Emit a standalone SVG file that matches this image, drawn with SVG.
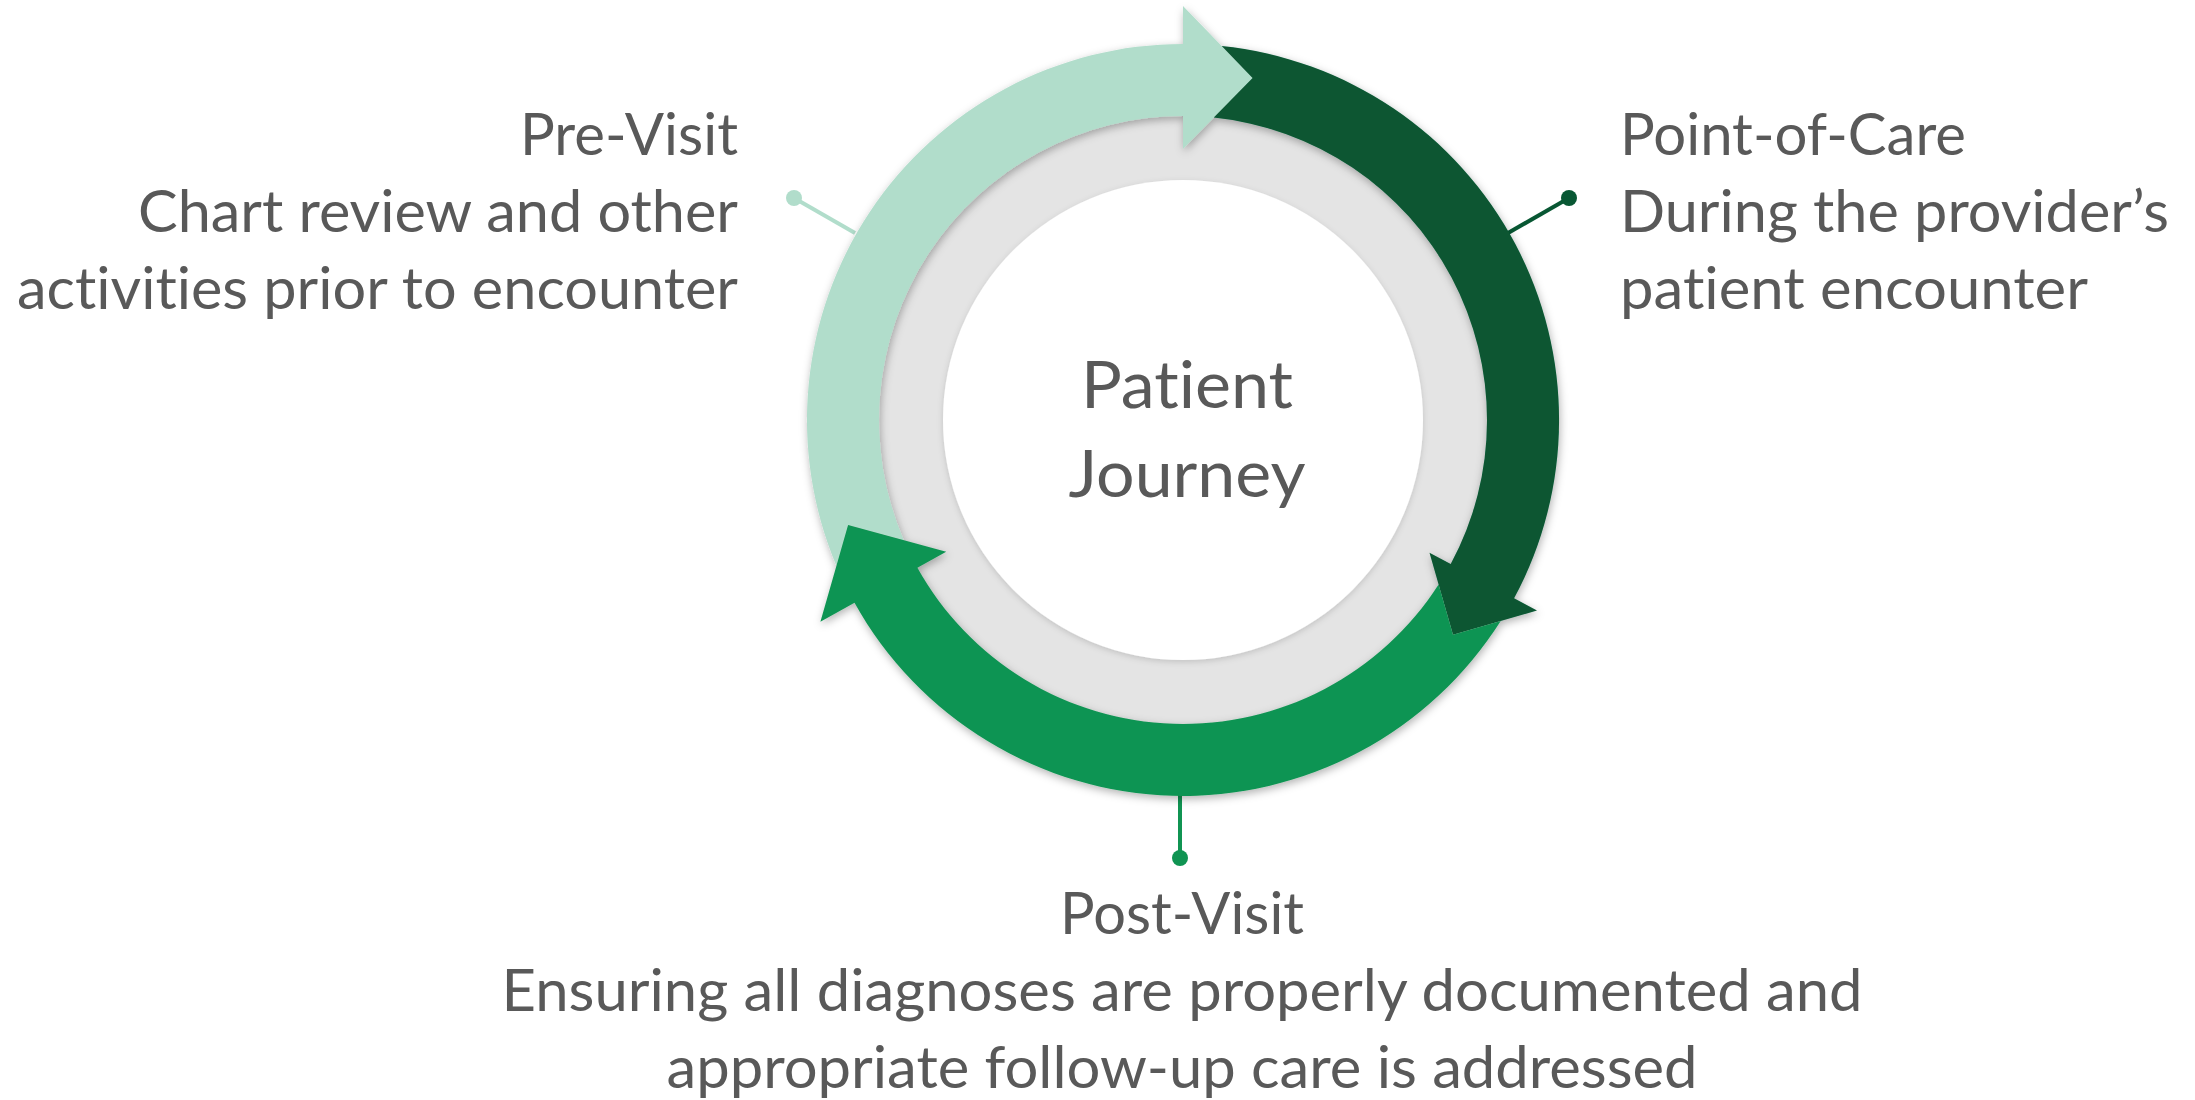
<svg xmlns="http://www.w3.org/2000/svg" width="2195" height="1100" viewBox="0 0 2195 1100">
<style>
  .lbl { font-family: Lato, "Open Sans", "Liberation Sans", sans-serif; font-size: 58px; fill: #595959; font-variant-ligatures: none; font-feature-settings: "liga" 0, "clig" 0; }
  .ctr { font-family: Lato, "Open Sans", "Liberation Sans", sans-serif; font-size: 65px; fill: #595959; font-variant-ligatures: none; font-feature-settings: "liga" 0, "clig" 0; }
  .light { fill: #B1DDCB; }
  .dark { fill: #085733; }
  .green { fill: #109452; }
</style>
<defs>
  <filter id="shadow" x="-20%" y="-20%" width="140%" height="140%">
    <feDropShadow dx="1" dy="3" stdDeviation="4" flood-color="#000" flood-opacity="0.3"/>
  </filter>
  <filter id="softshadow" x="-20%" y="-20%" width="140%" height="140%">
    <feDropShadow dx="0" dy="2" stdDeviation="3" flood-color="#000" flood-opacity="0.15"/>
  </filter>
</defs>
<rect width="2195" height="1100" fill="#FFFFFF"/>

<g id="hub">
  <circle cx="1183" cy="420" r="312" fill="#E4E4E4"/>
  <circle cx="1183" cy="420" r="240" fill="#FFFFFF" filter="url(#softshadow)"/>
  <text class="ctr" x="1187" y="408" text-anchor="middle" textLength="212" lengthAdjust="spacingAndGlyphs">Patient</text>
  <text class="ctr" x="1187" y="497" text-anchor="middle" textLength="237" lengthAdjust="spacingAndGlyphs">Journey</text>
</g>

<g id="connectors">
  <line x1="855" y1="233" x2="794" y2="198" stroke="#B1DDCB" stroke-width="4"/>
  <circle cx="794" cy="198" r="8" class="light"/>
  <line x1="1508" y1="233" x2="1569" y2="198" stroke="#085733" stroke-width="4"/>
  <circle cx="1569" cy="198" r="8" class="dark"/>
  <line x1="1180" y1="790" x2="1180" y2="858" stroke="#109452" stroke-width="4"/>
  <circle cx="1180" cy="858" r="8" class="green"/>
</g>

<g id="arrows" filter="url(#shadow)">
  <g id="pre-visit-arrow">
    <path class="light" d="M 836.4 565.8 A 376 376 0 0 1 1183 44 L 1183 6 L 1252.6 78 L 1183 149 L 1183 116 A 304 304 0 0 0 903.8 540.2 L 848.1 525 Z"/>
  </g>
  <g id="point-of-care-arrow">
    <path class="dark" d="M 1221.7 46 A 376 376 0 0 1 1514.1 598.3 L 1537 610.6 L 1453 634.8 L 1429.5 552.7 L 1450.7 564.1 A 304 304 0 0 0 1213.8 117.6 L 1252.6 78 Z"/>
  </g>
  <g id="post-visit-arrow">
    <path class="green" d="M 1500.7 621 A 376 376 0 0 1 854.5 602.8 L 820.4 621.8 L 848.1 525 L 946.2 551.8 L 917.4 567.8 A 304 304 0 0 0 1438.6 584.6 L 1453 634.8 Z"/>
  </g>
</g>

<g id="pre-visit-label">
  <text class="lbl" x="738" y="155" text-anchor="end" textLength="218" lengthAdjust="spacingAndGlyphs">Pre-Visit</text>
  <text class="lbl" x="738" y="232" text-anchor="end" textLength="600" lengthAdjust="spacingAndGlyphs">Chart review and other</text>
  <text class="lbl" x="738" y="309" text-anchor="end" textLength="721" lengthAdjust="spacingAndGlyphs">activities prior to encounter</text>
</g>

<g id="point-of-care-label">
  <text class="lbl" x="1620" y="155" textLength="346" lengthAdjust="spacingAndGlyphs">Point-of-Care</text>
  <text class="lbl" x="1620" y="232" textLength="549" lengthAdjust="spacingAndGlyphs">During the provider’s</text>
  <text class="lbl" x="1620" y="309" textLength="468" lengthAdjust="spacingAndGlyphs">patient encounter</text>
</g>

<g id="post-visit-label">
  <text class="lbl" x="1182" y="934" text-anchor="middle" textLength="244" lengthAdjust="spacingAndGlyphs">Post-Visit</text>
  <text class="lbl" x="1182" y="1011" text-anchor="middle" textLength="1361" lengthAdjust="spacingAndGlyphs">Ensuring all diagnoses are properly documented and</text>
  <text class="lbl" x="1182" y="1088" text-anchor="middle" textLength="1031" lengthAdjust="spacingAndGlyphs">appropriate follow-up care is addressed</text>
</g>
</svg>
